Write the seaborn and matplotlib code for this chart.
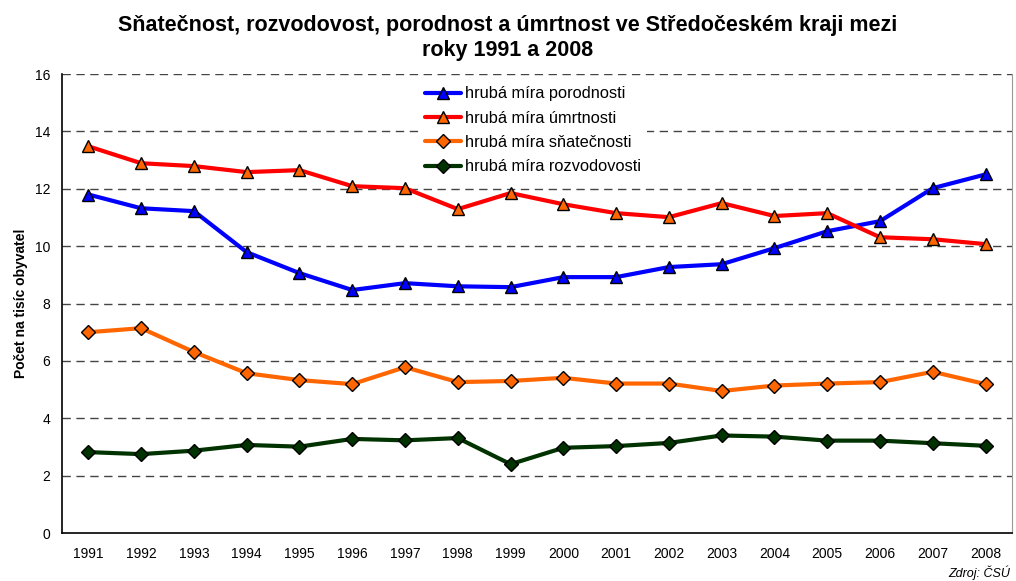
import numpy as np
import pandas as pd
import matplotlib
matplotlib.use("Agg")
import matplotlib.pyplot as plt
import seaborn as sns

years = list(range(1991, 2009))
porodnost = [11.8, 11.32, 11.22, 9.79, 9.06, 8.47, 8.71, 8.6, 8.57, 8.92,
             8.92, 9.27, 9.37, 9.93, 10.52, 10.87, 12.02, 12.5]
umrtnost = [13.48, 12.89, 12.79, 12.58, 12.65, 12.09, 12.02, 11.29, 11.85, 11.46,
            11.15, 11.01, 11.5, 11.05, 11.15, 10.31, 10.24, 10.07]
snatecnost = [7.0, 7.14, 6.31, 5.57, 5.33, 5.19, 5.78, 5.26, 5.3, 5.41,
              5.21, 5.21, 4.95, 5.14, 5.21, 5.26, 5.62, 5.19]
rozvodovost = [2.82, 2.75, 2.87, 3.07, 3.01, 3.28, 3.23, 3.31, 2.4, 2.97,
               3.03, 3.14, 3.4, 3.36, 3.22, 3.22, 3.13, 3.04]

labels = ["hrubá míra porodnosti", "hrubá míra úmrtnosti",
          "hrubá míra sňatečnosti", "hrubá míra rozvodovosti"]

sns.set_style("white")
plt.rcParams['font.family'] = ['Liberation Sans', 'DejaVu Sans']
plt.rcParams['text.color'] = 'black'
plt.rcParams['axes.labelcolor'] = 'black'
plt.rcParams['xtick.color'] = 'black'
plt.rcParams['ytick.color'] = 'black'

fig = plt.figure(figsize=(10.16, 5.81), dpi=100)
ax = fig.add_axes([0.061, 0.0826, 0.935, 0.79])

pos = np.arange(len(years))
series = [
    (porodnost, labels[0], '#0000FF', '^', '#0000FF', 9),
    (umrtnost, labels[1], '#FF0000', '^', '#FF6600', 9),
    (snatecnost, labels[2], '#FF6600', 'D', '#FF6600', 7.5),
    (rozvodovost, labels[3], '#003300', 'D', '#003300', 7.5),
]
for vals, lab, col, mk, mfc, ms in series:
    sns.lineplot(x=pos, y=vals, ax=ax, color=col, lw=3, label=lab,
                 marker=mk, markersize=ms, markerfacecolor=mfc,
                 markeredgecolor='black', markeredgewidth=1)

ax.set_xlim(-0.5, len(years) - 0.5)
ax.set_ylim(0, 16)
ax.set_yticks(range(0, 17, 2))
ax.set_xticks(pos)
ax.set_xticklabels([str(y) for y in years], fontsize=10)
ax.set_xticks(np.arange(-0.5, len(years), 1), minor=True)
ax.tick_params(axis='x', which='major', length=0, pad=10)
ax.tick_params(axis='x', which='minor', length=5, direction='out', color='black', width=1)
ax.tick_params(axis='y', length=5, direction='out', color='black', width=1, labelsize=10)

for y in range(2, 17, 2):
    ax.axhline(y, color='#444444', lw=1, ls=(0, (6, 4)), zorder=0)

for s in ['left', 'bottom']:
    ax.spines[s].set_color('black')
    ax.spines[s].set_linewidth(1.2)
ax.spines['top'].set_visible(False)
ax.spines['right'].set_color('#999999')

ax.set_ylabel("Počet na tisíc obyvatel", fontsize=10, fontweight='bold', labelpad=5)
ax.set_xlabel("")

fig.suptitle("Sňatečnost, rozvodovost, porodnost a úmrtnost ve Středočeském kraji mezi\nroky 1991 a 2008",
             fontsize=15.5, fontweight='bold', y=0.975, linespacing=1.25)

leg = ax.legend(loc='upper left', bbox_to_anchor=(0.367, 1.005), frameon=True,
                facecolor='white', edgecolor='none', framealpha=1, fancybox=False,
                fontsize=11.8, handlelength=2.2, labelspacing=0.57, handletextpad=0.2)

fig.text(0.994, 0.002, "Zdroj: ČSÚ", ha='right', va='bottom', fontsize=9, style='italic')

fig.savefig("out.png", dpi=100)
